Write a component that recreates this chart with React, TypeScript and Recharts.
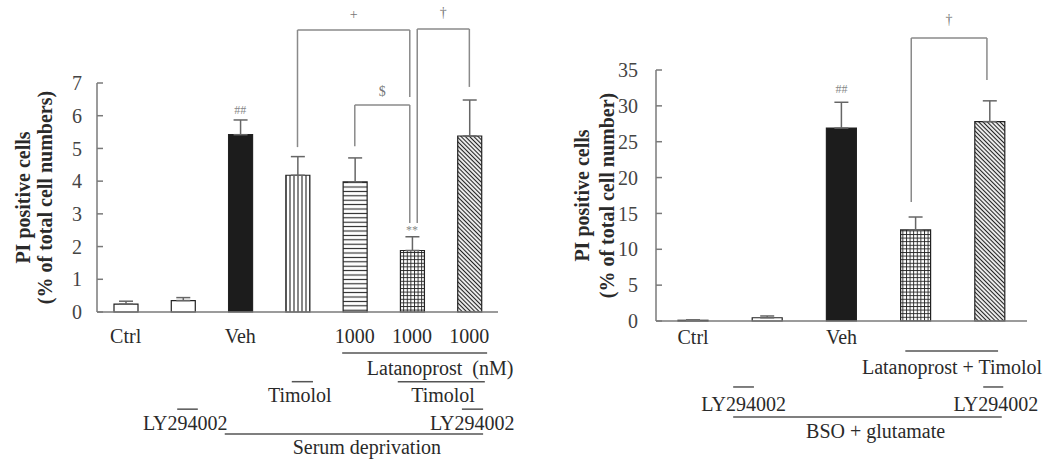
import { BarChart, Bar, XAxis, YAxis, ErrorBar, Cell, ReferenceLine, ReferenceDot } from 'recharts'

const SERIF = '"Liberation Serif", "Times New Roman", serif'
const INK = '#2a2a2a'
const AXIS = '#7a7a7a'
const BRACKET = '#8a8a8a'

// left panel: serum deprivation
const LEFT_IDS = ['ctrl', 'ly', 'veh', 'tim', 'lat', 'latTim', 'latTimLy']
const LEFT_TICKS = ['Ctrl', '', 'Veh', '', '1000', '1000', '1000']
const LEFT_VALUES = [0.24, 0.35, 5.42, 4.18, 3.98, 1.88, 5.38]
const LEFT_ERRORS = [0.09, 0.09, 0.45, 0.57, 0.73, 0.42, 1.1]
const LEFT_Y_TICKS = [0, 1, 2, 3, 4, 5, 6, 7]
const LEFT_FILLS = ['#fff', '#fff', '#1c1c1c', 'vs', 'hs', 'grid', 'diag']
const LEFT_Y_LABEL = ['PI positive cells', '(% of total cell numbers)']

// brackets and marks, in data units (x = category position 1..n)
const LEFT_BRACKETS = [
  { x1: 4, x2: 5.96, top: 8.62, left: 5.04, right: 6.57, label: '+', labelY: 9.08 },
  { x1: 5, x2: 5.96, top: 6.33, left: 5.07, right: 2.72, label: '$', labelY: 6.75 },
  { x1: 6.09, x2: 7, top: 8.65, left: 2.72, right: 6.88, label: '†', labelY: 9.14 },
]
const LEFT_MARKS = [
  { x: 3, y: 6.18, text: '##' },
  { x: 6, y: 2.5, text: '**' },
]
const LEFT_NOTES = [
  { x: 6.49, y: -1.71, text: 'Latanoprost  (nM)' },
  { x: 4.04, y: -2.54, text: 'Timolol' },
  { x: 6.54, y: -2.54, text: 'Timolol' },
  { x: 2.04, y: -3.39, text: 'LY294002' },
  { x: 7.05, y: -3.39, text: 'LY294002' },
  { x: 5.21, y: -4.13, text: 'Serum deprivation' },
]
const LEFT_RULES = [
  { x1: 4.78, x2: 7.31, y: -1.25 },
  { x1: 5.75, x2: 7.27, y: -2.13 },
  { x1: 3.9, x2: 4.27, y: -2.13 },
  { x1: 1.9, x2: 2.26, y: -2.97 },
  { x1: 6.87, x2: 7.24, y: -2.97 },
  { x1: 2.73, x2: 7.24, y: -3.73 },
]

// right panel: BSO + glutamate
const RIGHT_IDS = ['ctrl', 'ly', 'veh', 'latTim', 'latTimLy']
const RIGHT_TICKS = ['Ctrl', '', 'Veh', '', '']
const RIGHT_VALUES = [0.1, 0.45, 26.9, 12.7, 27.8]
const RIGHT_ERRORS = [0.05, 0.25, 3.6, 1.8, 2.9]
const RIGHT_Y_TICKS = [0, 5, 10, 15, 20, 25, 30, 35]
const RIGHT_FILLS = ['#fff', '#fff', '#1c1c1c', 'grid', 'diag']
const RIGHT_Y_LABEL = ['PI positive cells', '(% of total cell number)']

const RIGHT_BRACKETS = [
  { x1: 3.94, x2: 4.96, top: 39.46, left: 16.6, right: 33.6, label: '†', labelY: 42 },
]
const RIGHT_MARKS = [{ x: 3, y: 32.35, text: '##' }]
const RIGHT_NOTES = [
  { x: 4.49, y: -6.41, text: 'Latanoprost + Timolol' },
  { x: 1.68, y: -11.57, text: 'LY294002' },
  { x: 5.08, y: -11.57, text: 'LY294002' },
  { x: 3.46, y: -15.34, text: 'BSO + glutamate' },
]
const RIGHT_RULES = [
  { x1: 3.86, x2: 5.11, y: -4.18 },
  { x1: 1.54, x2: 1.82, y: -9.2 },
  { x1: 4.91, x2: 5.18, y: -9.2 },
  { x1: 1.54, x2: 5.16, y: -13.39 },
]

type Note = { x: number; y: number; text: string }
type Rule = { x1: number; x2: number; y: number }
type Bracket = { x1: number; x2: number; top: number; left: number; right: number; label: string; labelY: number }

interface PanelProps {
  prefix: string
  ids: string[]
  ticks: string[]
  values: number[]
  errors: number[]
  fills: string[]
  yTicks: number[]
  yLabel: string[]
  yLabelDx: number[]
  brackets: Bracket[]
  marks: Note[]
  notes: Note[]
  rules: Rule[]
  width: number
  margin: { top: number; right: number; bottom: number; left: number }
  barSize: number
  xTickMargin: number
  yTickMargin: number
}

const textDot = (text: string, size: number, fill: string, preserve = false) => (p: any) => (
  <text
    x={p.cx}
    y={p.cy}
    textAnchor="middle"
    dominantBaseline="central"
    fontFamily={SERIF}
    fontSize={size}
    fill={fill}
    style={preserve ? { whiteSpace: 'pre' } : undefined}
  >
    {text}
  </text>
)

function Panel(props: PanelProps) {
  const { prefix, ids, ticks, values, errors, fills, yTicks, yLabel, yLabelDx } = props
  const data = ids.map((id, i) => ({ id, pos: i + 1, value: values[i], err: [0, errors[i]] }))
  const n = ids.length
  const yMax = yTicks[yTicks.length - 1]
  const fillOf = (f: string) => (f.startsWith('#') ? f : `url(#${prefix}-${f})`)

  const seg = (key: string, x1: number, y1: number, x2: number, y2: number, color: string) => (
    <ReferenceLine
      key={key}
      xAxisId="n"
      segment={[{ x: x1, y: y1 }, { x: x2, y: y2 }]}
      stroke={color}
      strokeWidth={1.5}
      ifOverflow="visible"
    />
  )

  return (
    <BarChart width={props.width} height={465} data={data} margin={props.margin}>
      <defs>
        <pattern id={`${prefix}-vs`} patternUnits="userSpaceOnUse" width={4} height={8}>
          <rect width={4} height={8} fill="#fff" />
          <line x1={2} y1={0} x2={2} y2={8} stroke="#222" strokeWidth={1.1} />
        </pattern>
        <pattern id={`${prefix}-hs`} patternUnits="userSpaceOnUse" width={8} height={4.4}>
          <rect width={8} height={4.4} fill="#fff" />
          <line x1={0} y1={2.2} x2={8} y2={2.2} stroke="#222" strokeWidth={1.1} />
        </pattern>
        <pattern id={`${prefix}-grid`} patternUnits="userSpaceOnUse" width={3.6} height={3.6}>
          <rect width={3.6} height={3.6} fill="#fff" />
          <line x1={0.5} y1={0} x2={0.5} y2={3.6} stroke="#222" strokeWidth={0.9} />
          <line x1={0} y1={0.5} x2={3.6} y2={0.5} stroke="#222" strokeWidth={0.9} />
        </pattern>
        <pattern id={`${prefix}-diag`} patternUnits="userSpaceOnUse" width={3} height={3} patternTransform="rotate(45)">
          <rect width={3} height={3} fill="#fff" />
          <line x1={0} y1={1.5} x2={3} y2={1.5} stroke="#222" strokeWidth={1.2} />
        </pattern>
      </defs>
      <XAxis
        dataKey="id"
        interval={0}
        tickLine={false}
        axisLine={{ stroke: AXIS, strokeWidth: 1.5 }}
        tick={{ fontFamily: SERIF, fontSize: 20, fill: INK }}
        tickMargin={props.xTickMargin}
        tickFormatter={(_v: string, i: number) => ticks[i]}
      />
      <XAxis xAxisId="n" dataKey="pos" type="number" domain={[0.5, n + 0.5]} allowDataOverflow hide />
      <YAxis
        domain={[0, yMax]}
        ticks={yTicks}
        interval={0}
        width={40}
        tickSize={-6}
        tickMargin={props.yTickMargin}
        axisLine={{ stroke: AXIS, strokeWidth: 1.5 }}
        tickLine={{ stroke: AXIS, strokeWidth: 1.5 }}
        tick={{ fontFamily: SERIF, fontSize: 20, fill: '#444' }}
        label={(lp: any) => {
          const vb = lp.viewBox
          const cy = vb.y + vb.height / 2
          return (
            <g>
              {yLabel.map((line, i) => {
                const x = vb.x + yLabelDx[i]
                return (
                  <text
                    key={i}
                    x={x}
                    y={cy}
                    transform={`rotate(-90 ${x} ${cy})`}
                    textAnchor="middle"
                    dominantBaseline="central"
                    fontFamily={SERIF}
                    fontWeight="bold"
                    fontSize={20}
                    fill={INK}
                  >
                    {line}
                  </text>
                )
              })}
            </g>
          )
        }}
      />
      <Bar dataKey="value" barSize={props.barSize} stroke="#222" strokeWidth={1.2} isAnimationActive={false}>
        {data.map((_, i) => (
          <Cell key={`cell-${i}`} fill={fillOf(fills[i])} />
        ))}
        <ErrorBar dataKey="err" width={7} stroke="#666" strokeWidth={1.5} direction="y" isAnimationActive={false} />
      </Bar>
      {props.brackets.flatMap((b, i) => [
        seg(`bl-${i}`, b.x1, b.left, b.x1, b.top, BRACKET),
        seg(`bt-${i}`, b.x1, b.top, b.x2, b.top, BRACKET),
        seg(`br-${i}`, b.x2, b.top, b.x2, b.right, BRACKET),
        <ReferenceDot
          key={`bx-${i}`}
          xAxisId="n"
          x={(b.x1 + b.x2) / 2}
          y={b.labelY}
          r={0}
          ifOverflow="visible"
          shape={textDot(b.label, 14, '#777')}
        />,
      ])}
      {props.marks.map((m, i) => (
        <ReferenceDot key={`m-${i}`} xAxisId="n" x={m.x} y={m.y} r={0} ifOverflow="visible" shape={textDot(m.text, 12, '#888')} />
      ))}
      {props.rules.map((r, i) => seg(`r-${i}`, r.x1, r.y, r.x2, r.y, '#555'))}
      {props.notes.map((t, i) => (
        <ReferenceDot key={`t-${i}`} xAxisId="n" x={t.x} y={t.y} r={0} ifOverflow="visible" shape={textDot(t.text, 20, INK, true)} />
      ))}
    </BarChart>
  )
}

export default function App() {
  return (
    <div style={{ position: 'absolute', left: 0, top: 0, width: 1048, height: 465, background: '#fff' }}>
      <div style={{ position: 'absolute', left: 0, top: 0 }}>
        <Panel
          prefix="sd"
          ids={LEFT_IDS}
          ticks={LEFT_TICKS}
          values={LEFT_VALUES}
          errors={LEFT_ERRORS}
          fills={LEFT_FILLS}
          yTicks={LEFT_Y_TICKS}
          yLabel={LEFT_Y_LABEL}
          yLabelDx={[-34, -12]}
          brackets={LEFT_BRACKETS}
          marks={LEFT_MARKS}
          notes={LEFT_NOTES}
          rules={LEFT_RULES}
          width={520}
          margin={{ top: 83, right: 22, bottom: 123, left: 57 }}
          barSize={24}
          xTickMargin={11}
          yTickMargin={21}
        />
      </div>
      <div style={{ position: 'absolute', left: 528, top: 0 }}>
        <Panel
          prefix="bg"
          ids={RIGHT_IDS}
          ticks={RIGHT_TICKS}
          values={RIGHT_VALUES}
          errors={RIGHT_ERRORS}
          fills={RIGHT_FILLS}
          yTicks={RIGHT_Y_TICKS}
          yLabel={RIGHT_Y_LABEL}
          yLabelDx={[-34, -9]}
          brackets={RIGHT_BRACKETS}
          marks={RIGHT_MARKS}
          notes={RIGHT_NOTES}
          rules={RIGHT_RULES}
          width={520}
          margin={{ top: 70, right: 21, bottom: 114, left: 88 }}
          barSize={30}
          xTickMargin={3}
          yTickMargin={24}
        />
      </div>
    </div>
  )
}
